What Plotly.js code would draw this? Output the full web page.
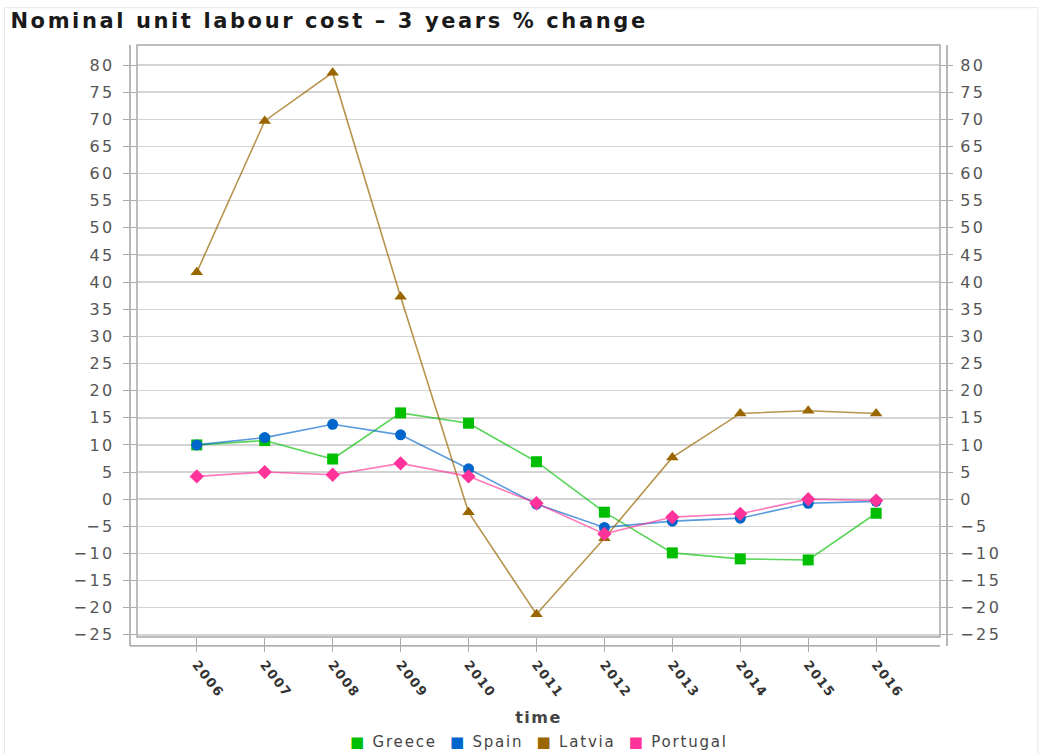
<!DOCTYPE html>
<html><head><meta charset="utf-8">
<script src="https://cdn.plot.ly/plotly-3.0.1.min.js"></script>
<style>
html,body{margin:0;padding:0;background:#fff}
#chart{width:1045px;height:754px}
.gtitle{letter-spacing:2.6px}
.ytick text,.y2tick text{letter-spacing:2.5px}
.xtick text{letter-spacing:1.5px}
.xtitle{letter-spacing:1.5px}
.annotation-text{letter-spacing:1.8px}
</style>
</head><body><div id="chart"></div>
<script>
var years = [2006,2007,2008,2009,2010,2011,2012,2013,2014,2015,2016];
var greece   = [10.0, 10.8, 7.4, 15.9, 14.0, 6.9, -2.4, -9.9, -11.0, -11.2, -2.6];
var spain    = [10.0, 11.35, 13.8, 11.85, 5.6, -0.9, -5.2, -4.05, -3.5, -0.75, -0.4];
var latvia   = [41.8, 69.7, 78.6, 37.3, -2.4, -21.2, -7.2, 7.7, 15.8, 16.3, 15.8];
var portugal = [4.2, 5.0, 4.5, 6.6, 4.2, -0.75, -6.4, -3.3, -2.7, 0.0, -0.25];
var seriesNames = ['Greece','Spain','Latvia','Portugal'];
var yTicks = [80,75,70,65,60,55,50,45,40,35,30,25,20,15,10,5,0,-5,-10,-15,-20,-25];

var cols = ['#00bf00','#0066cc','#996600','#ff3399'];
var lineCols = ['rgba(0,191,0,0.65)','rgba(0,102,204,0.65)','rgba(153,102,0,0.7)','rgba(255,51,153,0.65)'];
var syms = ['square','circle','triangle-up','diamond'];
var sizes = [11,11,11,11];
var data = [greece, spain, latvia, portugal];

var traces = [];
data.forEach(function(d,i){
  traces.push({x:years, y:d, type:'scatter', mode:'lines+markers', name:seriesNames[i], showlegend:false,
    line:{color:lineCols[i], width:1.6}, marker:{symbol:syms[i], size:sizes[i], color:cols[i]}});
});
// empty trace to activate the right-hand axis
traces.push({x:[null], y:[null], yaxis:'y2', type:'scatter', mode:'markers', showlegend:false, hoverinfo:'skip'});

var legendText = seriesNames.map(function(n,i){
  return '<span style="color:' + cols[i] + '">■</span> ' + n;
}).join('  ');

var xr = [2005.12, 2016.94];
var yr = [-25.4, 83.7];
var shapes = [
  {type:'rect', xref:'paper', yref:'paper', x0:0, x1:1, y0:0, y1:1, line:{color:'#a8a8a8', width:1.5}},
  {type:'line', xref:'paper', yref:'paper', x0:-0.0087, x1:-0.0087, y0:-0.015, y1:1, line:{color:'#b0b0b0', width:1.8}},
  {type:'line', xref:'paper', yref:'paper', x0:1.0087, x1:1.0087, y0:-0.015, y1:1, line:{color:'#b0b0b0', width:1.8}},
  {type:'line', xref:'paper', yref:'paper', x0:-0.0087, x1:1.0, y0:-0.015, y1:-0.015, line:{color:'#b0b0b0', width:1.8}},
  {type:'rect', xref:'paper', yref:'paper', x0:-0.165, x1:1.122, y0:-0.2, y1:1.063, line:{color:'#e6e6e6', width:1}}
];

var layout = {
  width:1045, height:754,
  margin:{l:137, r:105, t:45, b:117, autoexpand:false},
  paper_bgcolor:'#ffffff', plot_bgcolor:'#ffffff',
  font:{family:'DejaVu Sans, sans-serif', color:'#555'},
  showlegend:false,
  title:{text:'Nominal unit labour cost – 3 years % change', x:0.01, xanchor:'left', y:0.972, yanchor:'middle',
    font:{family:'DejaVu Sans, sans-serif', size:21, color:'#1a1a1a', weight:'bold'}},
  xaxis:{range:xr, tickmode:'array', tickvals:years, ticktext:years.map(String), tickangle:52,
    ticks:'outside', ticklen:14, tickcolor:'#aaa', showgrid:false, zeroline:false, showline:false, automargin:false,
    tickfont:{family:'DejaVu Sans, sans-serif', size:13, color:'#333', weight:'bold'},
    title:{text:'<b>time</b>', font:{family:'DejaVu Sans, sans-serif', size:16, color:'#444'}, standoff:12}},
  yaxis:{range:yr, tickmode:'array', tickvals:yTicks, ticks:'outside', ticklen:13, tickcolor:'#aaa',
    ticklabelstandoff:5, automargin:false,
    showgrid:true, gridcolor:'#d4d4d4', gridwidth:1.5, zeroline:false, showline:false,
    tickfont:{family:'DejaVu Sans, sans-serif', size:16, color:'#555'}},
  yaxis2:{range:yr, overlaying:'y', side:'right', tickmode:'array', tickvals:yTicks, ticks:'outside', ticklen:12,
    ticklabelstandoff:4, automargin:false,
    tickcolor:'#aaa', showgrid:false, zeroline:false, showline:false,
    tickfont:{family:'DejaVu Sans, sans-serif', size:16, color:'#555'}},
  annotations:[{text:legendText, xref:'paper', yref:'paper', x:0.5, xanchor:'center', y:-0.178, yanchor:'middle',
    showarrow:false, font:{family:'DejaVu Sans, sans-serif', size:15, color:'#444'}}],
  shapes:shapes
};
Plotly.newPlot('chart', traces, layout, {displayModeBar:false, staticPlot:true});
</script></body></html>
